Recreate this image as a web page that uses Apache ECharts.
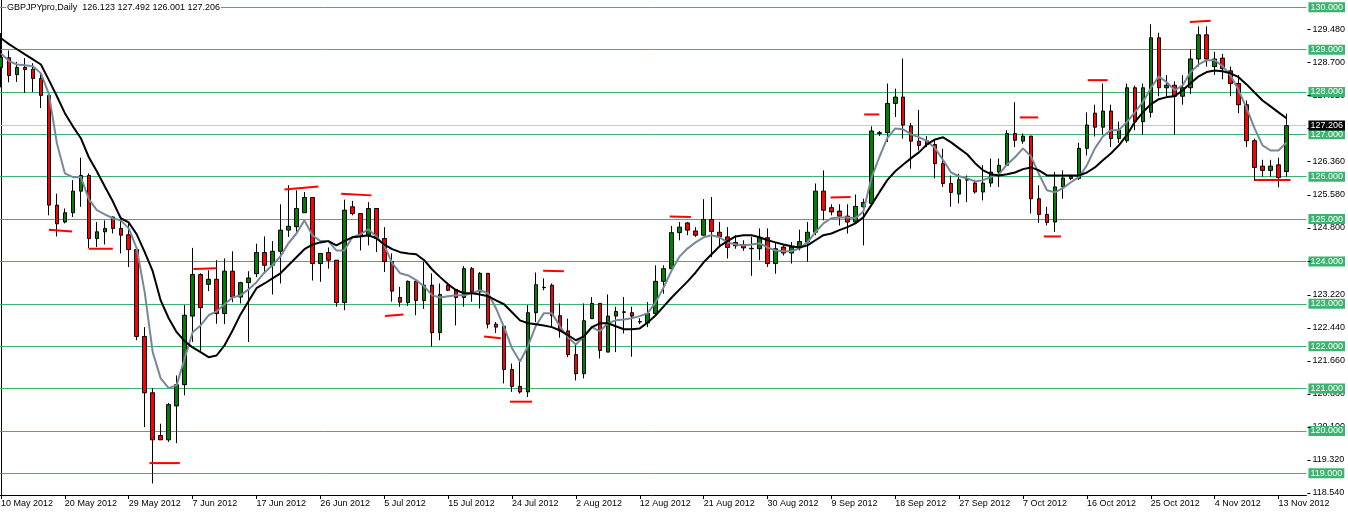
<!DOCTYPE html>
<html><head><meta charset="utf-8">
<script src="https://cdn.jsdelivr.net/npm/echarts@6/dist/echarts.min.js"></script>
<style>html,body{margin:0;padding:0;background:#fff;overflow:hidden;width:1348px;height:513px;position:relative;}
#c{position:absolute;left:-3px;top:0;width:1351px;height:513px;}</style>
</head><body><div id="c"></div>
<script>
const FONT = 'Liberation Sans, Arial, sans-serif';
const header = 'GBPJPYpro,Daily  126.123 127.492 126.001 127.206';
const bidPrice = 127.206;

const opens = [
128.58,128.81,128.41,128.58,128.54,128.32,127.92,125.33,124.93,125.15,
125.66,126.03,124.54,124.70,125.05,124.78,124.63,124.28,122.23,120.90,
119.89,119.79,120.59,121.09,122.71,123.69,123.46,123.58,122.77,123.77,
123.16,123.50,123.71,124.21,123.91,124.24,124.74,124.82,125.15,125.51,
123.95,124.21,124.03,123.03,125.29,125.13,124.60,125.25,124.54,124.00,
123.15,123.03,123.53,123.08,123.44,122.32,123.44,123.34,123.15,123.83,
123.28,123.72,122.52,122.47,121.45,121.05,120.92,122.79,123.39,123.44,
122.72,122.36,121.80,121.35,122.65,123.01,121.86,122.71,122.80,122.79,
122.57,122.55,122.77,123.53,123.83,124.68,124.91,124.72,124.62,124.99,
124.69,124.58,124.45,124.40,124.31,124.30,124.56,123.95,124.34,124.20,
124.34,124.46,124.69,125.66,125.27,125.19,125.07,124.93,125.29,125.37,
127.04,127.04,127.73,127.88,127.20,126.84,126.85,126.76,126.31,125.84,
125.59,125.93,125.85,125.64,125.85,126.11,126.27,127.02,126.84,126.96,
125.48,125.11,124.93,125.76,126.01,125.96,126.67,127.50,127.17,127.55,
126.90,126.85,128.10,127.30,127.52,129.28,128.10,128.16,127.90,128.10,
128.78,129.35,128.60,128.80,128.50,128.20,127.70,126.85,126.25,126.15,
126.28,126.123];
const closes = [
128.82,128.39,128.58,128.53,128.32,127.92,125.33,124.89,125.15,125.66,
126.03,124.54,124.70,124.78,124.78,124.62,124.28,122.23,120.90,119.79,
119.79,120.62,121.09,122.73,123.69,122.91,123.58,122.77,123.77,123.16,
123.50,123.61,124.21,123.91,124.24,124.74,124.83,125.25,125.51,123.95,
124.19,124.03,123.03,125.21,125.13,124.60,125.25,124.54,124.00,123.30,
123.04,123.53,123.08,123.44,122.32,123.22,123.32,123.15,123.83,123.28,
123.72,122.52,122.45,121.45,121.05,120.92,122.79,123.45,123.38,122.72,
122.36,121.80,121.35,122.60,123.01,121.90,122.71,122.82,122.81,122.71,
122.58,122.77,123.53,123.83,124.68,124.81,124.74,124.62,124.99,124.71,
124.59,124.33,124.37,124.32,124.30,124.56,123.95,124.30,124.20,124.34,
124.47,124.69,125.66,125.21,125.17,125.07,124.93,125.30,125.39,127.08,
127.02,127.73,127.88,127.22,126.84,126.74,126.76,126.31,125.84,125.63,
125.93,125.92,125.64,125.85,126.11,126.27,127.02,126.86,126.96,125.48,
125.11,124.92,125.76,125.97,125.96,126.67,127.22,127.17,127.55,126.90,
127.10,128.10,127.30,128.10,129.28,128.10,128.16,127.90,128.10,128.78,
129.35,128.78,128.78,128.55,128.20,127.70,126.85,126.22,126.15,126.25,
125.98,127.206];
const lows = [
128.11,128.23,128.24,127.98,128.00,127.62,125.09,124.59,124.90,125.05,
125.29,124.31,124.34,124.40,124.66,124.19,123.87,122.14,120.09,118.76,
119.79,119.74,119.71,120.84,122.10,121.89,123.30,122.53,122.52,123.04,
123.01,122.10,123.63,123.71,123.22,123.48,124.58,124.70,125.15,123.55,
123.52,123.83,122.93,122.85,125.09,124.26,124.38,124.22,123.75,123.05,
122.93,122.95,122.73,122.88,121.99,122.14,123.30,122.49,122.93,123.05,
122.89,122.42,122.31,121.12,120.92,120.88,120.80,122.57,123.32,122.46,
122.20,121.74,121.19,121.24,122.65,121.71,121.86,121.86,122.30,121.75,
122.52,122.45,122.73,123.24,123.83,124.50,124.62,124.58,124.62,124.10,
124.38,124.07,124.30,124.25,123.66,124.03,123.87,123.71,124.14,123.95,
124.26,123.99,124.62,124.97,125.09,124.85,124.66,124.93,124.38,125.37,
126.96,126.82,127.41,126.90,126.19,126.62,126.70,125.96,125.76,125.29,
125.37,125.40,125.60,125.44,125.76,125.76,126.27,126.70,126.78,125.13,
124.91,124.85,124.70,125.48,125.92,125.92,126.50,126.95,127.00,126.70,
126.80,126.80,127.10,127.00,127.40,127.90,127.90,127.00,127.70,127.95,
128.60,128.60,128.40,128.30,127.90,127.50,126.70,125.90,126.00,126.00,
125.75,126.001];
const highs = [
129.39,128.98,128.71,128.80,128.68,128.44,127.97,125.60,125.25,125.92,
126.45,126.08,124.93,124.97,125.06,125.02,124.93,124.36,122.45,121.01,
120.17,120.66,121.31,122.97,124.32,123.72,123.79,124.03,124.07,124.24,
123.52,123.77,124.42,124.59,124.48,125.35,125.80,125.68,125.64,125.51,
124.19,124.33,124.03,125.46,125.43,125.13,125.40,125.25,124.81,124.19,
123.40,123.55,123.55,123.99,123.72,123.48,123.48,123.34,123.89,123.87,
123.75,123.72,122.57,122.47,121.59,121.67,122.97,123.74,123.60,123.48,
123.01,122.65,122.07,123.01,123.16,123.01,123.22,122.93,123.16,122.93,
122.66,123.04,123.91,123.91,124.84,124.93,124.93,124.81,125.47,125.52,
124.93,124.81,124.62,124.50,124.58,124.78,124.78,124.46,124.38,124.46,
124.75,124.93,125.84,126.15,125.35,125.35,125.35,125.58,125.48,127.19,
127.08,128.20,128.08,128.79,127.27,127.58,126.96,126.86,126.66,126.03,
126.07,126.03,125.93,126.27,126.43,126.43,127.10,127.76,127.02,126.96,
125.80,125.29,126.11,126.15,126.05,126.80,127.52,127.70,128.20,127.70,
127.30,128.20,128.15,128.20,129.60,129.40,128.40,128.25,128.40,129.00,
129.55,129.55,128.95,128.90,128.60,128.40,127.80,126.90,126.40,126.40,
126.45,127.492];

const maSlow = [
129.27,129.13,129.01,128.89,128.77,128.65,128.28,127.90,127.50,127.19,
126.91,126.46,126.13,125.77,125.42,125.02,124.92,124.64,124.22,123.77,
123.08,122.66,122.33,122.12,121.97,121.86,121.74,121.78,122.02,122.37,
122.75,123.06,123.37,123.48,123.60,123.72,123.91,124.10,124.29,124.40,
124.45,124.48,124.38,124.48,124.57,124.59,124.62,124.55,124.40,124.29,
124.22,124.19,124.17,124.03,123.81,123.63,123.46,123.32,123.25,123.25,
123.22,123.18,123.08,122.99,122.80,122.61,122.54,122.52,122.49,122.45,
122.37,122.26,122.14,122.23,122.45,122.54,122.54,122.47,122.40,122.40,
122.42,122.56,122.73,122.94,123.15,123.34,123.53,123.74,123.98,124.17,
124.36,124.48,124.59,124.62,124.62,124.57,124.50,124.45,124.40,124.36,
124.33,124.38,124.50,124.62,124.66,124.74,124.81,124.90,125.04,125.33,
125.63,125.92,126.13,126.29,126.44,126.58,126.77,126.88,126.93,126.81,
126.67,126.53,126.32,126.15,126.06,126.03,126.06,126.10,126.18,126.22,
126.15,126.03,126.03,126.03,126.03,126.03,126.10,126.22,126.39,126.55,
126.74,126.98,127.29,127.52,127.71,127.83,127.88,127.90,128.04,128.21,
128.37,128.47,128.51,128.49,128.44,128.35,128.18,127.99,127.80,127.66,
127.52,127.38];
const maFast = [
128.91,128.73,128.65,128.63,128.61,128.44,127.95,126.79,126.08,125.99,
125.99,125.47,125.21,125.11,125.02,124.97,124.78,124.31,123.27,121.86,
121.24,121.01,121.08,121.71,122.33,122.49,122.73,122.82,122.99,123.15,
123.20,123.34,123.51,123.74,123.91,124.12,124.43,124.66,124.97,124.62,
124.48,124.48,124.26,124.26,124.57,124.64,124.76,124.59,124.38,123.96,
123.72,123.67,123.56,123.41,123.20,123.15,123.18,123.20,123.20,123.25,
123.32,123.25,122.89,122.45,121.95,121.64,122.00,122.49,122.78,122.78,
122.47,122.21,122.04,122.23,122.45,122.35,122.54,122.61,122.63,122.66,
122.71,122.78,123.04,123.39,123.79,124.12,124.31,124.45,124.57,124.62,
124.57,124.45,124.40,124.38,124.40,124.43,124.33,124.26,124.24,124.24,
124.31,124.45,124.69,124.90,125.02,125.04,125.04,125.02,125.18,125.96,
126.46,126.91,127.14,127.12,127.00,126.93,126.84,126.67,126.39,126.10,
126.01,125.96,125.89,125.92,125.99,126.06,126.29,126.46,126.67,126.48,
126.06,125.68,125.63,125.73,125.87,125.99,126.27,126.67,126.95,127.10,
127.10,127.29,127.52,127.76,128.09,128.37,128.23,128.04,128.16,128.47,
128.65,128.75,128.75,128.61,128.39,128.04,127.62,127.14,126.74,126.62,
126.62,126.81];

const levels = [119,120,121,122,123,124,125,126,127,128,129,130];
const priceTicks = [118.54,119.32,120.10,120.88,121.66,122.44,123.22,124.02,124.80,125.58,126.36,127.14,127.92,128.70,129.48];
// red hand-drawn marks: [barFrom, barTo, priceFrom, priceTo]
const redMarks = [
[6.0,8.9,124.75,124.71],[11.0,14.0,124.30,124.30],[18.6,22.4,119.24,119.24],
[24.1,27.0,123.82,123.84],[35.5,39.75,125.70,125.77],[42.6,46.4,125.60,125.56],
[48.1,50.4,122.71,122.75],[60.5,62.6,122.23,122.19],[63.75,66.5,120.69,120.69],
[67.9,70.5,123.78,123.77],[83.75,86.4,125.06,125.05],[103.9,106.4,125.51,125.52],
[108.1,110.0,127.47,127.47],[127.6,129.9,127.40,127.40],[130.6,132.75,124.59,124.59],
[136.1,138.6,128.28,128.28],[148.9,151.5,129.65,129.68],[157.0,161.5,125.92,125.92]];

// daily bars incl. Sunday sessions (no Saturday)
const MONTHS = ['Jan','Feb','Mar','Apr','May','Jun','Jul','Aug','Sep','Oct','Nov','Dec'];
const SLOTS = 164;
const categories = [];
{ let t = Date.UTC(2012, 4, 10);
  while (categories.length < SLOTS) { const d = new Date(t);
    if (d.getUTCDay() !== 6) categories.push(d.getUTCDate() + ' ' + MONTHS[d.getUTCMonth()] + ' ' + d.getUTCFullYear());
    t += 86400000; } }

const candles = opens.map((o, i) => [o, closes[i], lows[i], highs[i]]);
const GREEN = '#3cb371';
const lvlLines = levels.map(v => ({
  yAxis: v,
  lineStyle: {color: GREEN, width: 1, type: 'solid'},
  label: {show: true, position: 'end', distance: 2, formatter: v.toFixed(3), color: '#fff',
    backgroundColor: GREEN, padding: [1, 2, 0, 2], fontSize: 9, fontFamily: FONT}
}));
lvlLines.push({
  yAxis: bidPrice,
  lineStyle: {color: '#c8c8c8', width: 1, type: 'solid'},
  label: {show: true, position: 'end', distance: 2, formatter: bidPrice.toFixed(3), color: '#fff',
    backgroundColor: '#000', padding: [1, 2, 0, 2], fontSize: 9, fontFamily: FONT}
});

const everyEighth = (i) => i % 8 === 0;
const chart = echarts.init(document.getElementById('c'), null, {renderer: 'canvas'});
chart.setOption({
  animation: false,
  backgroundColor: '#fff',
  grid: {left: 0, right: 40, top: 0, bottom: 18, containLabel: false},
  xAxis: [{
    type: 'category', data: categories, boundaryGap: true,
    axisLine: {show: true, lineStyle: {color: '#000', width: 1}},
    axisTick: {show: true, alignWithLabel: true, interval: everyEighth, length: 4, lineStyle: {color: '#000'}},
    axisLabel: {interval: everyEighth, align: 'left', margin: 4, fontSize: 9, fontFamily: FONT, color: '#000', hideOverlap: false},
    splitLine: {show: false}
  }, {
    type: 'value', min: -0.5, max: SLOTS - 0.5, show: false
  }],
  yAxis: {
    type: 'value', position: 'right', min: 118.487, max: 130.172,
    splitLine: {show: false},
    axisLine: {show: true, lineStyle: {color: '#000', width: 1}},
    axisTick: {show: false},
    axisLabel: {customValues: priceTicks, formatter: (v) => v.toFixed(3), margin: 6, fontSize: 9, fontFamily: FONT, color: '#000'}
  },
  series: [{
    type: 'candlestick', data: candles, barWidth: 4, z: 3,
    itemStyle: {color: '#008000', color0: '#ff0000', borderColor: '#000', borderColor0: '#000', borderWidth: 1},
    markLine: {symbol: ['none', 'none'], silent: true, animation: false, z: 1, data: lvlLines}
  }, {
    type: 'line', data: maFast, symbol: 'none', showSymbol: false, z: 4,
    lineStyle: {color: '#778899', width: 2}
  }, {
    type: 'line', data: maSlow, symbol: 'none', showSymbol: false, z: 5,
    lineStyle: {color: '#000', width: 2}
  }, {
    type: 'custom', xAxisIndex: 1, silent: true, z: 2, clip: false,
    data: priceTicks.map(v => [SLOTS - 0.5, v]),
    renderItem: (params, api) => {
      const p = api.coord([api.value(0), api.value(1)]);
      const y = Math.round(p[1]) + 0.5;
      return {type: 'line', shape: {x1: p[0] + 1, y1: y, x2: p[0] + 4, y2: y}, style: {stroke: '#000', lineWidth: 1}};
    }
  }].concat(redMarks.map(m => ({
    type: 'line', xAxisIndex: 1, data: [[m[0], m[2]], [m[1], m[3]]], symbol: 'none', showSymbol: false,
    silent: true, z: 6, lineStyle: {color: '#ff0000', width: 2}
  }))),
  graphic: [{
    type: 'text', left: 9, top: 2, z: 100,
    style: {text: header, fontSize: 9, fontFamily: FONT, fill: '#000', backgroundColor: '#fff', padding: [1, 1]}
  }]
});
</script></body></html>
